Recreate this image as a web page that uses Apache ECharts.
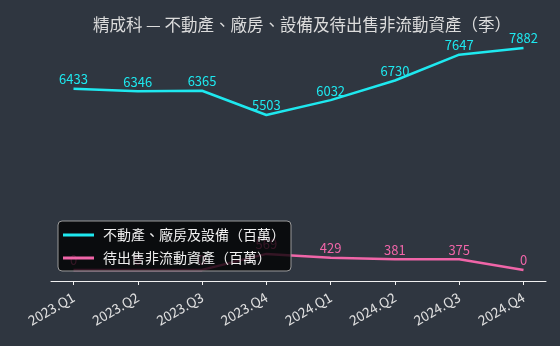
<!DOCTYPE html>
<html>
<head>
<meta charset="utf-8">
<script src="https://cdn.jsdelivr.net/npm/echarts@6/dist/echarts.min.js"></script>
<style>
html,body{margin:0;padding:0;background:#2f3640;}
#c{width:560px;height:346px;}
</style>
</head>
<body>
<div id="c"></div>
<script>
const titleText = '精成科 — 不動產、廠房、設備及待出售非流動資產（季）';
const categories = ['2023.Q1','2023.Q2','2023.Q3','2023.Q4','2024.Q1','2024.Q2','2024.Q3','2024.Q4'];
const ppeName = '不動產、廠房及設備（百萬）';
const ppeValues = [6433, 6346, 6365, 5503, 6032, 6730, 7647, 7882];
const heldName = '待出售非流動資產（百萬）';
const heldValues = [0, 0, 0, 569, 429, 381, 375, 0];
const tickIdx = categories.map((c, i) => i);

const CYAN = '#1ee8ef';
const PINK = '#f065a8';
const font = '"Noto Sans CJK TC", "Noto Sans", sans-serif';

const chart = echarts.init(document.getElementById('c'), null, {renderer: 'canvas'});
const dataMax = Math.max(...ppeValues, ...heldValues);
const pad = dataMax * 0.05;
chart.setOption({
  backgroundColor: '#2f3640',
  animation: false,
  title: {
    text: titleText,
    left: 297, textAlign: 'center', top: 11,
    textStyle: {color: '#dcdcdc', fontSize: 16.5, fontWeight: 'normal', fontFamily: font}
  },
  grid: {left: 51, right: 14, top: 37, bottom: 65},
  xAxis: {
    type: 'value', min: -0.35, max: 7.35,
    splitLine: {show: false},
    axisLine: {show: true, onZero: false, lineStyle: {color: '#f0f0f0', width: 1}},
    axisTick: {show: true, length: 4, lineStyle: {color: '#f0f0f0'}, customValues: tickIdx},
    axisLabel: {
      customValues: tickIdx, rotate: 30, color: '#e0e0e0', fontSize: 13.5, fontFamily: font, margin: 15,
      formatter: v => categories[Math.round(v)]
    }
  },
  yAxis: {
    type: 'value', min: -pad, max: dataMax + pad, show: false, splitLine: {show: false}
  },
  legend: {
    orient: 'vertical', left: 58, top: 221,
    backgroundColor: 'rgba(0,0,0,0.78)', borderColor: '#9a9a9a', borderWidth: 1, borderRadius: 4,
    padding: [7, 6, 6, 5], itemGap: 9, itemWidth: 31, itemHeight: 3,
    textStyle: {color: '#f0f0f0', fontSize: 14, fontFamily: font, padding: [0, 0, 0, 4]},
    data: [{name: ppeName, icon: 'rect'}, {name: heldName, icon: 'rect'}]
  },
  series: [
    {
      name: ppeName, type: 'line', showSymbol: true, symbol: 'circle', symbolSize: 0.1,
      data: ppeValues.map((v, i) => [i, v]),
      lineStyle: {color: CYAN, width: 2.5}, itemStyle: {color: CYAN},
      label: {show: true, position: 'top', distance: 3, color: CYAN, fontSize: 13, fontFamily: font,
        formatter: p => p.value[1]}
    },
    {
      name: heldName, type: 'line', showSymbol: true, symbol: 'circle', symbolSize: 0.1,
      data: heldValues.map((v, i) => [i, v]),
      lineStyle: {color: PINK, width: 2.5}, itemStyle: {color: PINK},
      label: {show: true, position: 'top', distance: 3, color: PINK, fontSize: 13, fontFamily: font,
        formatter: p => p.value[1]}
    }
  ]
});
</script>
</body>
</html>
